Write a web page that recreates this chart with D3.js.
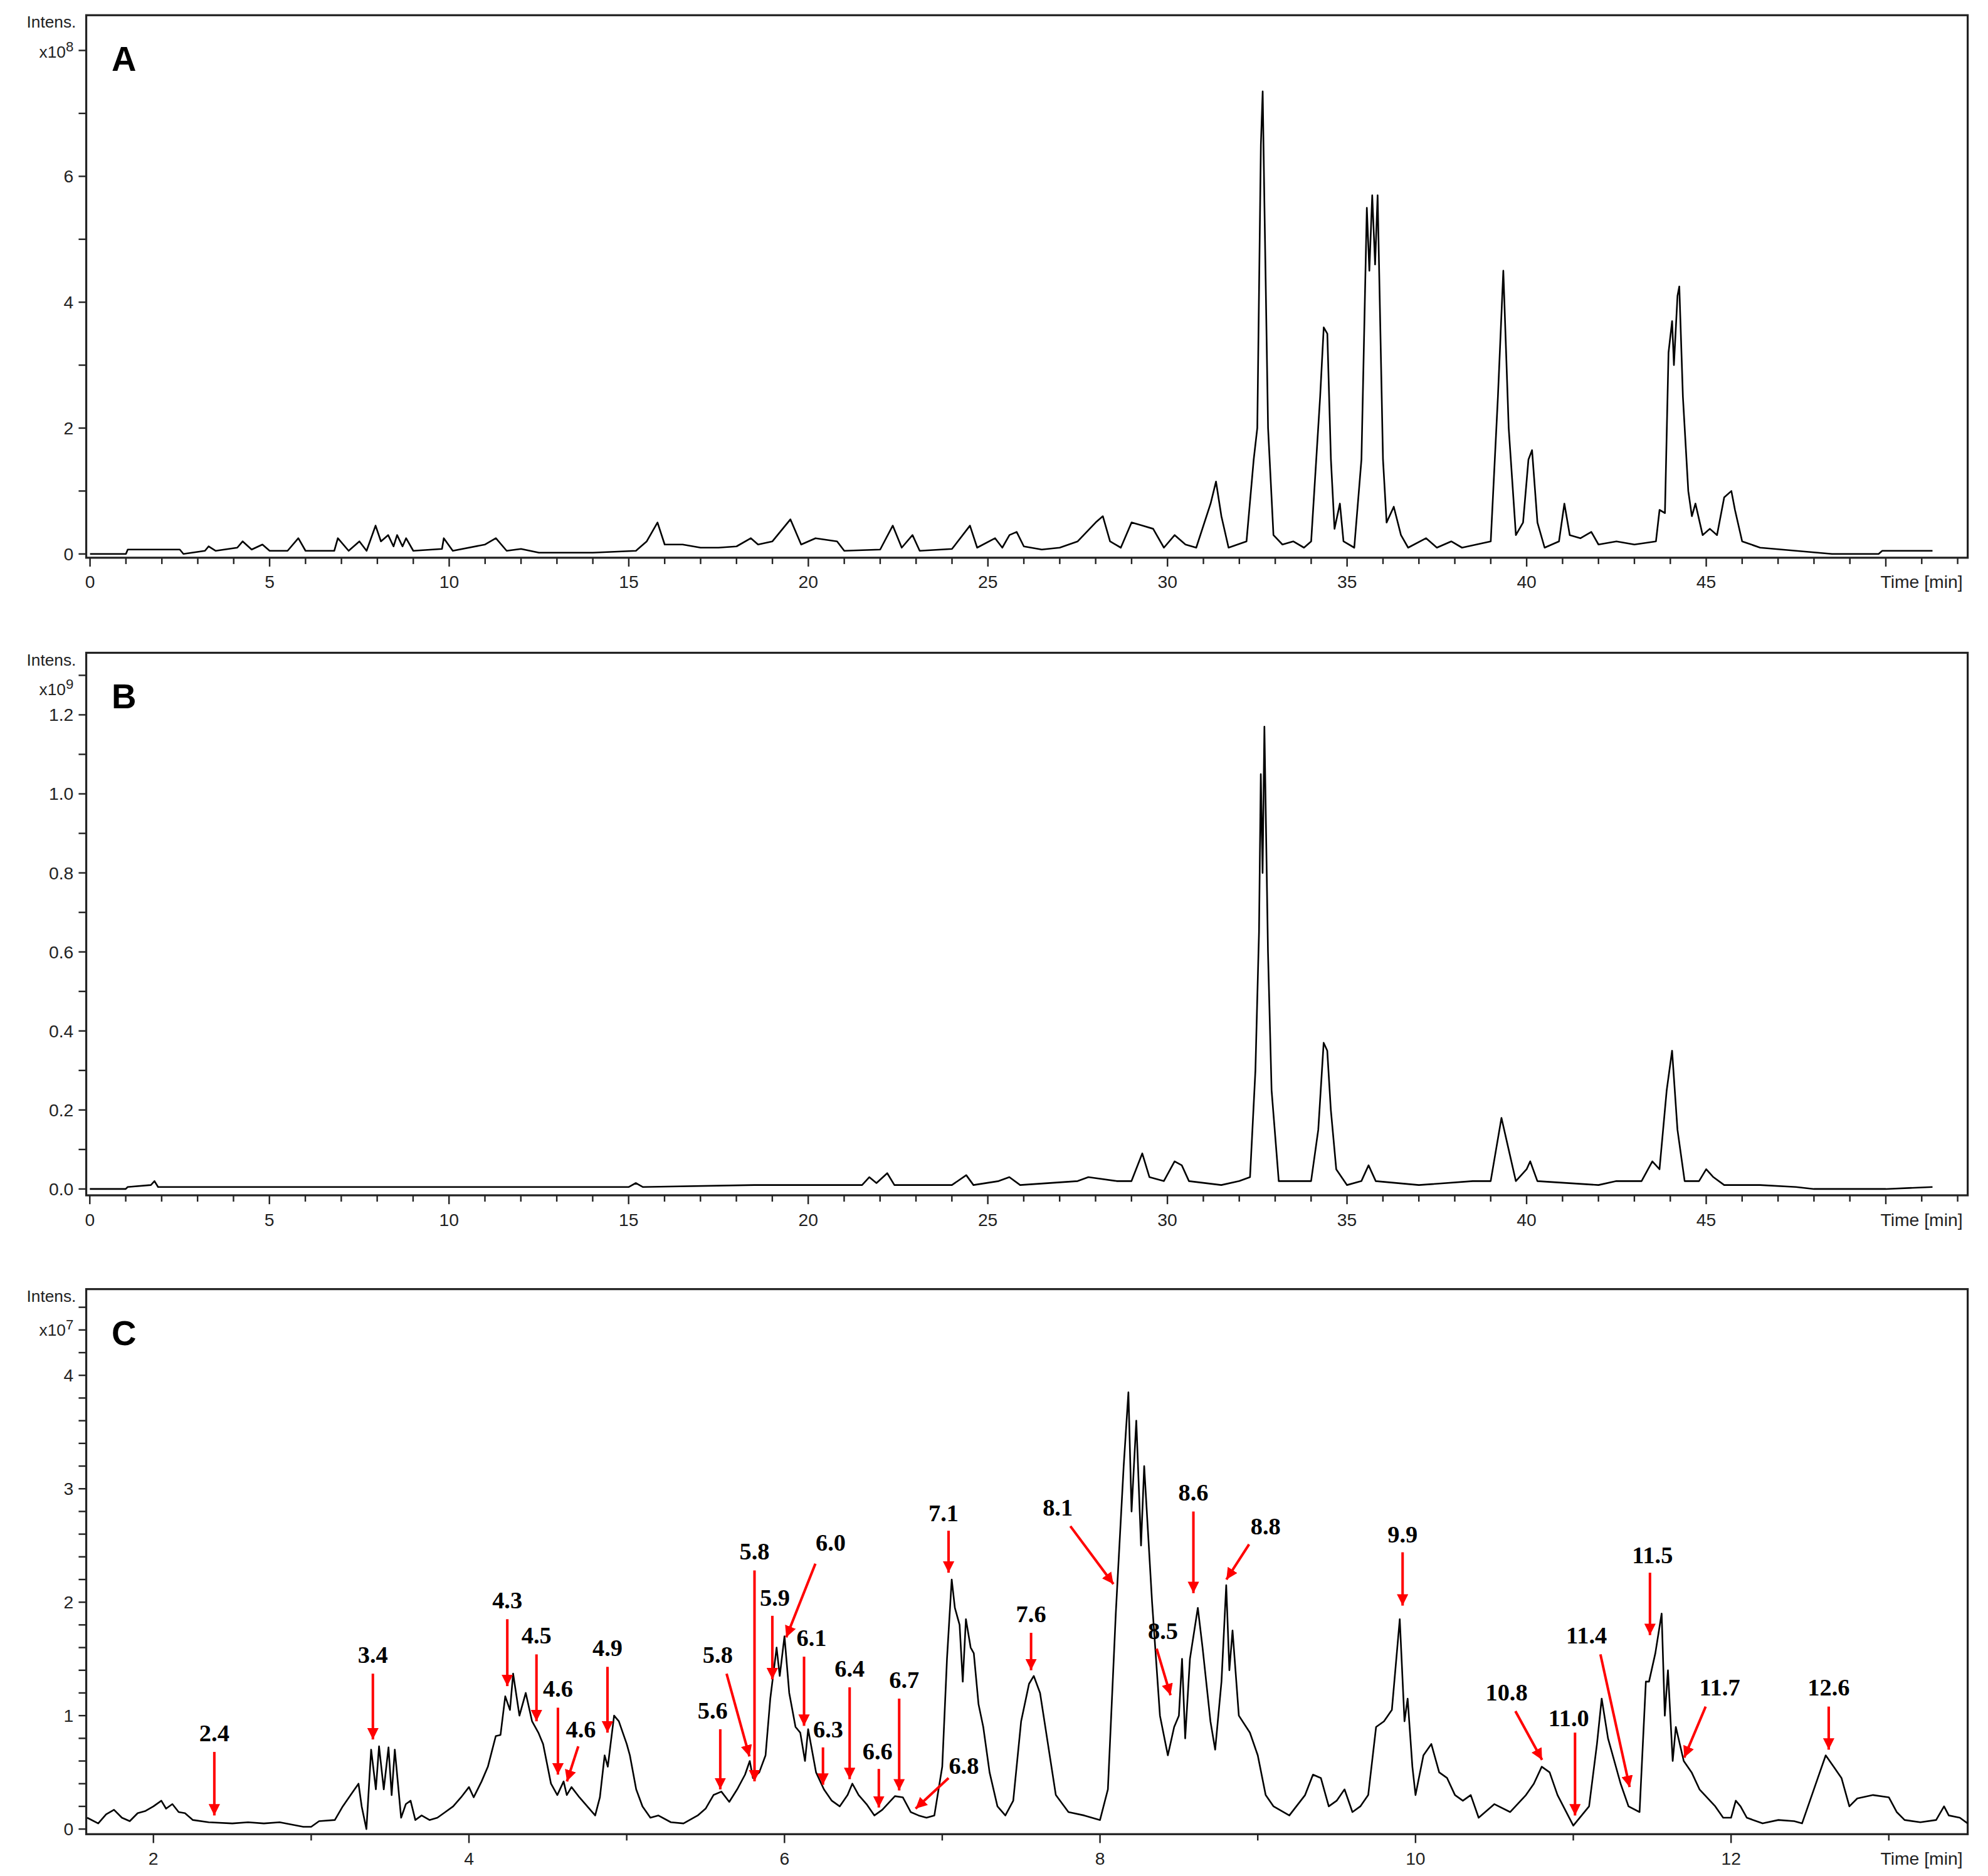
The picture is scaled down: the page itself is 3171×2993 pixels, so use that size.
<!DOCTYPE html>
<html>
<head>
<meta charset="utf-8">
<script src="https://cdn.jsdelivr.net/npm/d3@7"></script>
<style>
  body { margin: 0; background: #fff; }
  svg { display: block; }
</style>
</head>
<body>
<svg id="chart"></svg>
<script>
// chromatogram A (time min, intensity x1e8)
const traceA = [[0,0],[1.0,0],[1.05,0.07],[2.5,0.07],[2.6,0],[3.2,0.05],[3.3,0.12],[3.5,0.05],[4.1,0.1],[4.25,0.2],[4.5,0.07],[4.8,0.15],[5.0,0.05],[5.5,0.05],[5.8,0.25],[6.0,0.05],[6.8,0.05],[6.9,0.25],[7.2,0.05],[7.5,0.2],[7.7,0.05],[7.95,0.45],[8.1,0.2],[8.3,0.3],[8.45,0.12],[8.55,0.3],[8.7,0.12],[8.8,0.25],[9.0,0.05],[9.8,0.08],[9.85,0.25],[10.1,0.05],[11.0,0.15],[11.3,0.25],[11.6,0.05],[12.0,0.08],[12.5,0.02],[14.0,0.02],[15.2,0.05],[15.5,0.2],[15.8,0.5],[16.0,0.15],[16.5,0.15],[17.0,0.1],[17.5,0.1],[18.0,0.12],[18.4,0.25],[18.6,0.15],[19.0,0.2],[19.5,0.55],[19.8,0.15],[20.2,0.25],[20.8,0.2],[21.0,0.05],[22.0,0.07],[22.35,0.45],[22.6,0.1],[22.9,0.3],[23.1,0.05],[24.0,0.08],[24.5,0.45],[24.7,0.1],[25.2,0.25],[25.4,0.1],[25.6,0.3],[25.8,0.35],[26.0,0.12],[26.5,0.07],[27.0,0.1],[27.5,0.2],[28.0,0.5],[28.2,0.6],[28.4,0.2],[28.7,0.1],[29.0,0.5],[29.3,0.45],[29.6,0.4],[29.9,0.1],[30.2,0.3],[30.5,0.15],[30.8,0.1],[31.2,0.8],[31.35,1.15],[31.5,0.6],[31.7,0.1],[32.2,0.2],[32.4,1.5],[32.5,2.0],[32.6,6.5],[32.65,7.35],[32.7,5.5],[32.8,2.0],[32.95,0.3],[33.2,0.15],[33.5,0.2],[33.8,0.1],[34.0,0.2],[34.25,2.5],[34.35,3.6],[34.45,3.5],[34.55,1.5],[34.65,0.4],[34.8,0.8],[34.9,0.2],[35.2,0.1],[35.4,1.5],[35.55,5.5],[35.62,4.5],[35.7,5.7],[35.78,4.6],[35.85,5.7],[36.0,1.5],[36.1,0.5],[36.3,0.75],[36.5,0.3],[36.7,0.1],[37.2,0.25],[37.5,0.1],[37.9,0.2],[38.2,0.1],[39.0,0.2],[39.2,2.5],[39.35,4.5],[39.5,2.0],[39.7,0.3],[39.9,0.5],[40.05,1.5],[40.15,1.65],[40.3,0.5],[40.5,0.1],[40.9,0.2],[41.05,0.8],[41.2,0.3],[41.5,0.25],[41.8,0.35],[42.0,0.15],[42.5,0.2],[43.0,0.15],[43.6,0.2],[43.7,0.7],[43.85,0.65],[43.95,3.2],[44.05,3.7],[44.1,3.0],[44.2,4.1],[44.25,4.25],[44.35,2.5],[44.5,1.0],[44.6,0.6],[44.7,0.8],[44.9,0.3],[45.1,0.4],[45.3,0.3],[45.5,0.9],[45.7,1.0],[45.8,0.7],[46.0,0.2],[46.5,0.1],[47.5,0.05],[48.5,0.0],[49.8,0.0],[49.9,0.05],[51.3,0.05]];

// chromatogram B (time min, intensity x1e9)
const traceB = [[0,0],[1.0,0],[1.05,0.005],[1.7,0.01],[1.8,0.02],[1.9,0.005],[15,0.005],[15.2,0.015],[15.4,0.005],[18.5,0.01],[20.5,0.01],[21.5,0.01],[21.7,0.03],[21.9,0.015],[22.2,0.04],[22.4,0.01],[24.0,0.01],[24.4,0.035],[24.6,0.01],[25.3,0.02],[25.6,0.03],[25.9,0.01],[27.5,0.02],[27.8,0.03],[28.6,0.02],[29.0,0.02],[29.3,0.09],[29.5,0.03],[29.9,0.02],[30.2,0.07],[30.4,0.06],[30.6,0.02],[31.5,0.01],[32.0,0.02],[32.3,0.03],[32.45,0.3],[32.55,0.65],[32.6,1.05],[32.65,0.8],[32.7,1.17],[32.8,0.6],[32.9,0.25],[33.1,0.02],[34.0,0.02],[34.2,0.15],[34.35,0.37],[34.45,0.35],[34.55,0.2],[34.7,0.05],[35.0,0.01],[35.4,0.02],[35.6,0.06],[35.8,0.02],[37.0,0.01],[38.5,0.02],[39.0,0.02],[39.15,0.1],[39.3,0.18],[39.5,0.1],[39.7,0.02],[40.0,0.05],[40.1,0.07],[40.3,0.02],[42.0,0.01],[42.5,0.02],[43.2,0.02],[43.5,0.07],[43.7,0.05],[43.9,0.25],[44.05,0.35],[44.2,0.15],[44.4,0.02],[44.8,0.02],[45.0,0.05],[45.2,0.03],[45.5,0.01],[46.5,0.01],[47.5,0.005],[48,0],[50,0],[51.3,0.005]];

// chromatogram C (time min, intensity x1e7)
const traceC = [[1.58,0.1],[1.65,0.05],[1.7,0.13],[1.75,0.17],[1.8,0.1],[1.85,0.07],[1.9,0.14],[1.95,0.16],[2.0,0.2],[2.05,0.25],[2.08,0.18],[2.12,0.22],[2.16,0.15],[2.2,0.14],[2.25,0.08],[2.35,0.06],[2.5,0.05],[2.6,0.06],[2.7,0.05],[2.8,0.06],[2.95,0.02],[3.0,0.02],[3.05,0.07],[3.15,0.08],[3.2,0.2],[3.25,0.3],[3.3,0.4],[3.32,0.2],[3.35,0.0],[3.38,0.7],[3.41,0.35],[3.43,0.73],[3.46,0.35],[3.49,0.72],[3.51,0.3],[3.53,0.7],[3.57,0.1],[3.6,0.22],[3.63,0.25],[3.66,0.08],[3.7,0.12],[3.75,0.08],[3.8,0.1],[3.85,0.15],[3.9,0.2],[3.95,0.28],[4.0,0.37],[4.03,0.28],[4.08,0.42],[4.12,0.55],[4.17,0.82],[4.2,0.83],[4.23,1.17],[4.26,1.05],[4.28,1.37],[4.32,1.0],[4.36,1.2],[4.4,0.95],[4.44,0.85],[4.47,0.75],[4.52,0.4],[4.56,0.3],[4.6,0.42],[4.62,0.3],[4.65,0.37],[4.7,0.28],[4.75,0.2],[4.8,0.12],[4.83,0.28],[4.86,0.65],[4.88,0.55],[4.92,1.0],[4.95,0.95],[5.0,0.75],[5.02,0.65],[5.06,0.35],[5.1,0.2],[5.15,0.1],[5.2,0.12],[5.28,0.06],[5.36,0.05],[5.45,0.12],[5.5,0.18],[5.55,0.3],[5.6,0.33],[5.65,0.24],[5.7,0.35],[5.75,0.48],[5.78,0.6],[5.8,0.45],[5.84,0.5],[5.88,0.65],[5.91,1.15],[5.95,1.6],[5.97,1.35],[6.0,1.7],[6.03,1.2],[6.07,0.9],[6.1,0.85],[6.13,0.6],[6.15,0.88],[6.2,0.5],[6.25,0.35],[6.3,0.25],[6.35,0.2],[6.4,0.3],[6.43,0.4],[6.47,0.3],[6.52,0.22],[6.57,0.12],[6.62,0.17],[6.7,0.29],[6.75,0.28],[6.8,0.15],[6.85,0.12],[6.9,0.1],[6.95,0.12],[7.0,0.55],[7.03,1.5],[7.06,2.2],[7.08,1.95],[7.11,1.8],[7.13,1.3],[7.15,1.85],[7.18,1.6],[7.2,1.55],[7.23,1.1],[7.26,0.9],[7.3,0.5],[7.35,0.2],[7.4,0.12],[7.45,0.25],[7.5,0.95],[7.55,1.28],[7.58,1.35],[7.62,1.2],[7.67,0.75],[7.72,0.3],[7.8,0.15],[7.9,0.12],[8.0,0.08],[8.05,0.35],[8.1,1.9],[8.15,3.2],[8.18,3.85],[8.2,2.8],[8.23,3.6],[8.26,2.5],[8.28,3.2],[8.33,2.0],[8.38,1.0],[8.43,0.65],[8.47,0.9],[8.5,1.0],[8.52,1.5],[8.54,0.8],[8.57,1.5],[8.62,1.95],[8.65,1.6],[8.7,0.95],[8.73,0.7],[8.77,1.3],[8.8,2.15],[8.82,1.4],[8.84,1.75],[8.88,1.0],[8.95,0.85],[9.0,0.65],[9.05,0.3],[9.1,0.2],[9.2,0.12],[9.3,0.3],[9.35,0.48],[9.4,0.45],[9.45,0.2],[9.5,0.25],[9.55,0.35],[9.6,0.15],[9.65,0.2],[9.7,0.3],[9.75,0.9],[9.8,0.95],[9.85,1.05],[9.9,1.85],[9.93,0.95],[9.95,1.15],[9.98,0.55],[10.0,0.3],[10.05,0.65],[10.1,0.75],[10.15,0.5],[10.2,0.45],[10.25,0.3],[10.3,0.25],[10.35,0.3],[10.4,0.1],[10.5,0.22],[10.6,0.15],[10.7,0.3],[10.75,0.4],[10.8,0.55],[10.85,0.5],[10.9,0.3],[11.0,0.03],[11.1,0.2],[11.15,0.75],[11.18,1.15],[11.22,0.8],[11.3,0.4],[11.35,0.2],[11.42,0.15],[11.46,1.3],[11.48,1.3],[11.52,1.55],[11.56,1.9],[11.58,1.0],[11.6,1.4],[11.63,0.6],[11.65,0.9],[11.7,0.6],[11.75,0.5],[11.8,0.35],[11.9,0.2],[11.95,0.1],[12.0,0.1],[12.03,0.25],[12.06,0.2],[12.1,0.1],[12.2,0.05],[12.3,0.08],[12.4,0.07],[12.45,0.05],[12.5,0.25],[12.55,0.45],[12.6,0.65],[12.65,0.55],[12.7,0.45],[12.75,0.2],[12.8,0.27],[12.9,0.3],[13.0,0.28],[13.05,0.15],[13.1,0.08],[13.2,0.06],[13.3,0.08],[13.35,0.2],[13.38,0.12],[13.45,0.1],[13.5,0.05]];

// peak annotations in C: label, text centre [t, v], arrow from [t1,v1] to [t2,v2]
const annoLabels = ['2.4','3.4','4.3','4.5','4.6','4.6','4.9','5.6','5.8','5.8','5.9','6.0','6.1','6.3','6.4','6.6','6.7','6.8','7.1','7.6','8.1','8.5','8.6','8.8','9.9','10.8','11.0','11.4','11.5','11.7','12.6'];
const annoText = [[2.386,0.85],[3.391,1.54],[4.243,2.02],[4.428,1.71],[4.564,1.24],[4.709,0.88],[4.878,1.60],[5.545,1.05],[5.577,1.54],[5.810,2.45],[5.939,2.04],[6.293,2.53],[6.172,1.69],[6.277,0.88],[6.413,1.42],[6.590,0.69],[6.759,1.32],[7.137,0.56],[7.008,2.79],[7.563,1.90],[7.732,2.84],[8.399,1.75],[8.592,2.97],[9.050,2.67],[9.918,2.60],[10.577,1.21],[10.971,0.98],[11.084,1.71],[11.502,2.42],[11.928,1.25],[12.619,1.25]];
const annoFrom = [[2.386,0.68],[3.391,1.37],[4.243,1.85],[4.428,1.54],[4.564,1.07],[4.693,0.73],[4.878,1.43],[5.593,0.88],[5.633,1.37],[5.810,2.28],[5.923,1.88],[6.196,2.34],[6.124,1.52],[6.244,0.72],[6.413,1.25],[6.598,0.53],[6.727,1.15],[7.040,0.45],[7.040,2.63],[7.563,1.73],[7.812,2.67],[8.359,1.59],[8.592,2.80],[8.945,2.51],[9.918,2.44],[10.633,1.04],[11.011,0.85],[11.172,1.54],[11.486,2.26],[11.839,1.08],[12.619,1.08]];
const annoTo = [[2.386,0.12],[3.391,0.79],[4.243,1.26],[4.428,0.95],[4.564,0.48],[4.621,0.42],[4.878,0.85],[5.593,0.35],[5.778,0.64],[5.810,0.42],[5.923,1.32],[6.011,1.69],[6.124,0.91],[6.244,0.39],[6.413,0.44],[6.598,0.19],[6.727,0.34],[6.831,0.18],[7.040,2.26],[7.563,1.40],[8.085,2.16],[8.447,1.18],[8.592,2.08],[8.801,2.20],[9.918,1.97],[10.802,0.61],[11.011,0.12],[11.357,0.37],[11.486,1.71],[11.703,0.63],[12.619,0.70]];

const W = 1568, H = 1480;
const svg = d3.select('#chart')
  .attr('width', 3171).attr('height', 2993)
  .attr('viewBox', `0 0 ${W} ${H}`)
  .style('font-family', 'Liberation Sans, Arial, sans-serif');

svg.append('defs').append('marker')
  .attr('id', 'arrow').attr('viewBox', '0 0 10 10')
  .attr('refX', 10).attr('refY', 5)
  .attr('markerWidth', 4.5).attr('markerHeight', 4.5)
  .attr('markerUnits', 'strokeWidth')
  .attr('orient', 'auto')
  .append('path').attr('d', 'M0,0 L10,5 L0,10 Z').attr('fill', '#ff0000');

function panel(opt) {
  const { top, bottom, x0, x1, xMajor, xMinor, xSkip, y0, y1, yMajor, yMinor, yFmt, exp, expOff, letter, data } = opt;
  const left = 68, right = 1552;
  const x = d3.scaleLinear().domain([x0, x1]).range([left, right]);
  const y = d3.scaleLinear().domain([y0, y1]).range([bottom, top]);
  const g = svg.append('g');

  // frame
  g.append('rect').attr('x', left).attr('y', top)
    .attr('width', right - left).attr('height', bottom - top)
    .attr('fill', 'none').attr('stroke', '#222').attr('stroke-width', 1.6);

  // x axis
  const xt = d3.range(Math.ceil(x0), x1, xMinor).filter(v => v >= x0);
  g.selectAll('.xt').data(xt).enter().append('line')
    .attr('x1', d => x(d)).attr('x2', d => x(d))
    .attr('y1', bottom).attr('y2', d => bottom + (Math.abs(d % xMajor) < 1e-6 ? 7 : 5))
    .attr('stroke', '#222').attr('stroke-width', 1.2);
  g.selectAll('.xl').data(xt.filter(d => Math.abs(d % xMajor) < 1e-6 && d < xSkip)).enter().append('text')
    .attr('x', d => x(d)).attr('y', bottom + 24)
    .attr('text-anchor', 'middle').attr('font-size', 14).attr('fill', '#222')
    .text(d => d);
  g.append('text').attr('x', right - 4).attr('y', bottom + 24)
    .attr('text-anchor', 'end').attr('font-size', 14).attr('fill', '#222')
    .text('Time [min]');

  // y axis
  const yt = d3.range(0, y1 + 1e-9, yMinor).map(v => +v.toFixed(3));
  g.selectAll('.yt').data(yt).enter().append('line')
    .attr('x1', left).attr('x2', left - 6)
    .attr('y1', d => y(d)).attr('y2', d => y(d))
    .attr('stroke', '#222').attr('stroke-width', 1.2);
  const ylab = yt.filter(d => Math.abs(d / yMajor - Math.round(d / yMajor)) < 1e-6 && y(d) > top + 40);
  g.selectAll('.yl').data(ylab).enter().append('text')
    .attr('x', left - 10).attr('y', d => y(d)).attr('dy', '0.35em')
    .attr('text-anchor', 'end').attr('font-size', 14).attr('fill', '#222')
    .text(yFmt);
  g.append('text').attr('x', left - 8).attr('y', top + 10)
    .attr('text-anchor', 'end').attr('font-size', 13).attr('fill', '#222')
    .text('Intens.');
  const ex = g.append('text').attr('x', left - 10).attr('y', top + expOff).attr('dy', '0.35em')
    .attr('text-anchor', 'end').attr('font-size', 13).attr('fill', '#222');
  ex.append('tspan').text('x10');
  ex.append('tspan').attr('dy', '-0.45em').attr('font-size', 11).text(exp);

  g.append('text').attr('x', left + 20).attr('y', top + 44)
    .attr('font-size', 27).attr('font-weight', 'bold').attr('fill', '#000')
    .text(letter);

  g.append('path').datum(data)
    .attr('fill', 'none').attr('stroke', '#000').attr('stroke-width', 1.3)
    .attr('stroke-linejoin', 'round')
    .attr('d', d3.line().x(d => x(d[0])).y(d => y(d[1])));
  return { x, y, g };
}

panel({ top: 12, bottom: 440, x0: -0.106, x1: 52.28, xMajor: 5, xMinor: 1, xSkip: 48,
  y0: -0.06, y1: 8.56, yMajor: 2, yMinor: 1, yFmt: d => d, exp: '8', expOff: 29,
  letter: 'A', data: traceA });

panel({ top: 515, bottom: 943, x0: -0.1, x1: 52.28, xMajor: 5, xMinor: 1, xSkip: 48,
  y0: -0.016, y1: 1.357, yMajor: 0.2, yMinor: 0.1, yFmt: d => d.toFixed(1), exp: '9', expOff: 29,
  letter: 'B', data: traceB });

const pc = panel({ top: 1017, bottom: 1447, x0: 1.574, x1: 13.5, xMajor: 2, xMinor: 1, xSkip: 13,
  y0: -0.045, y1: 4.76, yMajor: 1, yMinor: 0.2, yFmt: d => d, exp: '7', expOff: 32,
  letter: 'C', data: traceC });

const ag = pc.g.append('g');
annoLabels.forEach((lab, i) => {
  ag.append('line')
    .attr('x1', pc.x(annoFrom[i][0])).attr('y1', pc.y(annoFrom[i][1]))
    .attr('x2', pc.x(annoTo[i][0])).attr('y2', pc.y(annoTo[i][1]))
    .attr('stroke', '#ff0000').attr('stroke-width', 2)
    .attr('marker-end', 'url(#arrow)');
  ag.append('text')
    .attr('x', pc.x(annoText[i][0])).attr('y', pc.y(annoText[i][1]))
    .attr('dy', '0.35em').attr('text-anchor', 'middle')
    .attr('font-family', 'Liberation Serif, Times New Roman, serif')
    .attr('font-weight', 'bold').attr('font-size', 19).attr('fill', '#000')
    .text(lab);
});
</script>
</body>
</html>
